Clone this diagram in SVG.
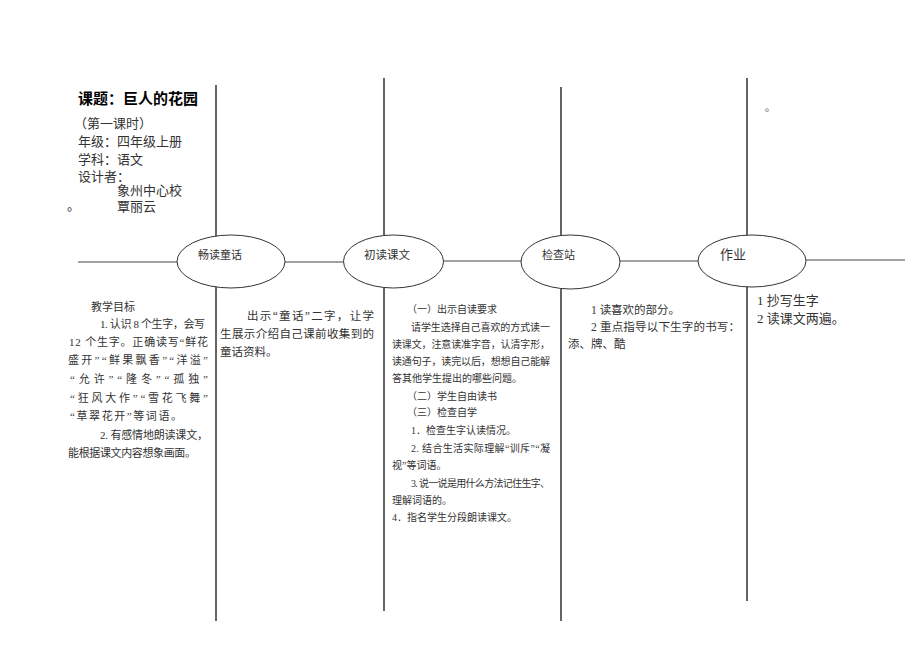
<svg xmlns="http://www.w3.org/2000/svg" width="920" height="651" viewBox="0 0 920 651">
<style>
  .t { font-family: "Liberation Serif", "Noto Sans CJK SC", serif; fill: #333; }
  .s10 { font-size: 10px; }
  .s11 { font-size: 11px; }
  .s115 { font-size: 11.5px; }
  .s13 { font-size: 13px; }
  .title { font-family: "Noto Sans CJK SC", sans-serif; font-size: 15px; font-weight: bold; fill: #000; }
  .vline { stroke: #111; stroke-width: 1.3; fill: none; }
  .hline { stroke: #444; stroke-width: 1; fill: none; }
  .node ellipse { fill: #fff; stroke: #333; stroke-width: 1; }
  .lbl { font-family: "Liberation Serif", "Noto Sans CJK SC", serif; fill: #333; }
</style>
<rect x="0" y="0" width="920" height="651" fill="#fff"/>

<g id="connectors">
  <line class="vline" x1="216" y1="85" x2="216" y2="621"/>
  <line class="vline" x1="384" y1="78" x2="384" y2="611"/>
  <line class="vline" x1="561" y1="87" x2="561" y2="621"/>
  <line class="vline" x1="747" y1="78" x2="747" y2="601"/>
  <line class="hline" x1="78" y1="262" x2="177" y2="262"/>
  <line class="hline" x1="285" y1="262" x2="344" y2="262"/>
  <line class="hline" x1="443" y1="261" x2="521" y2="261"/>
  <line class="hline" x1="620" y1="261" x2="698" y2="261"/>
  <line class="hline" x1="806" y1="260" x2="905" y2="260"/>
</g>

<g id="node-changdu" class="node">
  <ellipse cx="231" cy="261.5" rx="54" ry="26.5"/>
  <text class="lbl s11" x="198" y="259">畅读童话</text>
</g>
<g id="node-chudu" class="node">
  <ellipse cx="393.5" cy="261.5" rx="50" ry="26.5"/>
  <text class="lbl s115" x="364" y="259">初读课文</text>
</g>
<g id="node-jianchazhan" class="node">
  <ellipse cx="570.5" cy="262" rx="49.5" ry="27"/>
  <text class="lbl s11" x="542" y="259">检查站</text>
</g>
<g id="node-zuoye" class="node">
  <ellipse cx="752" cy="261" rx="54" ry="26"/>
  <text class="lbl s13" x="720" y="259">作业</text>
</g>

<g id="header">
  <text class="title" x="78" y="104">课题：巨人的花园</text>
  <text class="t s13" x="74" y="128">（第一课时）</text>
  <text class="t s13" x="78" y="146">年级：四年级上册</text>
  <text class="t s13" x="78" y="164">学科：语文</text>
  <text class="t s13" x="78" y="181">设计者：</text>
  <text class="t s13" x="117" y="195">象州中心校</text>
  <text class="t s13" x="67" y="210">。</text>
  <text class="t s13" x="117" y="211">覃丽云</text>
</g>

<g id="col-objectives">
  <text class="t s11" x="91" y="311">教学目标</text>
  <text class="t s11" x="100" y="328" textLength="105" lengthAdjust="spacing">1. 认识 8 个生字，会写</text>
  <text class="t s11" x="69" y="346" textLength="139" lengthAdjust="spacing">12 个生字。正确读写“鲜花</text>
  <text class="t s11" x="68" y="364" textLength="140" lengthAdjust="spacing">盛开”“鲜果飘香”“洋溢”</text>
  <text class="t s11" x="70" y="383" textLength="138" lengthAdjust="spacing">“允许”“隆冬”“孤独”</text>
  <text class="t s11" x="70" y="402" textLength="138" lengthAdjust="spacing">“狂风大作”“雪花飞舞”</text>
  <text class="t s11" x="70" y="420" textLength="112" lengthAdjust="spacing">“草翠花开”等词语。</text>
  <text class="t s11" x="100" y="439" textLength="108" lengthAdjust="spacing">2. 有感情地朗读课文，</text>
  <text class="t s11" x="68" y="457" textLength="128" lengthAdjust="spacing">能根据课文内容想象画面。</text>
</g>

<g id="col-intro">
  <text class="t s115" x="247" y="320" textLength="127" lengthAdjust="spacing">出示“童话”二字，让学</text>
  <text class="t s115" x="220" y="338" textLength="154" lengthAdjust="spacing">生展示介绍自己课前收集到的</text>
  <text class="t s115" x="220" y="356">童话资料。</text>
</g>

<g id="col-reading">
  <text class="t s10" x="407" y="313">（一）出示自读要求</text>
  <text class="t s10" x="411" y="331" textLength="139" lengthAdjust="spacing">请学生选择自己喜欢的方式读一</text>
  <text class="t s10" x="392" y="348" textLength="158" lengthAdjust="spacing">读课文，注意读准字音，认清字形，</text>
  <text class="t s10" x="392" y="365" textLength="158" lengthAdjust="spacing">读通句子，读完以后，想想自己能解</text>
  <text class="t s10" x="392" y="382">答其他学生提出的哪些问题。</text>
  <text class="t s10" x="407" y="400">（二）学生自由读书</text>
  <text class="t s10" x="407" y="416">（三）检查自学</text>
  <text class="t s10" x="411" y="434">1．检查生字认读情况。</text>
  <text class="t s10" x="411" y="452" textLength="139" lengthAdjust="spacing">2. 结合生活实际理解“训斥”“凝</text>
  <text class="t s10" x="392" y="469">视”等词语。</text>
  <text class="t s10" x="411" y="487" textLength="139" lengthAdjust="spacing">3. 说一说是用什么方法记住生字、</text>
  <text class="t s10" x="392" y="504">理解词语的。</text>
  <text class="t s10" x="392" y="521">4．指名学生分段朗读课文。</text>
</g>

<g id="col-check">
  <text class="t s115" x="591" y="314">1 读喜欢的部分。</text>
  <text class="t s115" x="591" y="331" textLength="149" lengthAdjust="spacing">2 重点指导以下生字的书写：</text>
  <text class="t s115" x="568" y="348">添、牌、酷</text>
</g>

<g id="col-homework">
  <text class="t s10" x="765" y="111">。</text>
  <text class="t s13" x="757" y="305">1 抄写生字</text>
  <text class="t s13" x="757" y="323">2 读课文两遍。</text>
</g>
</svg>
